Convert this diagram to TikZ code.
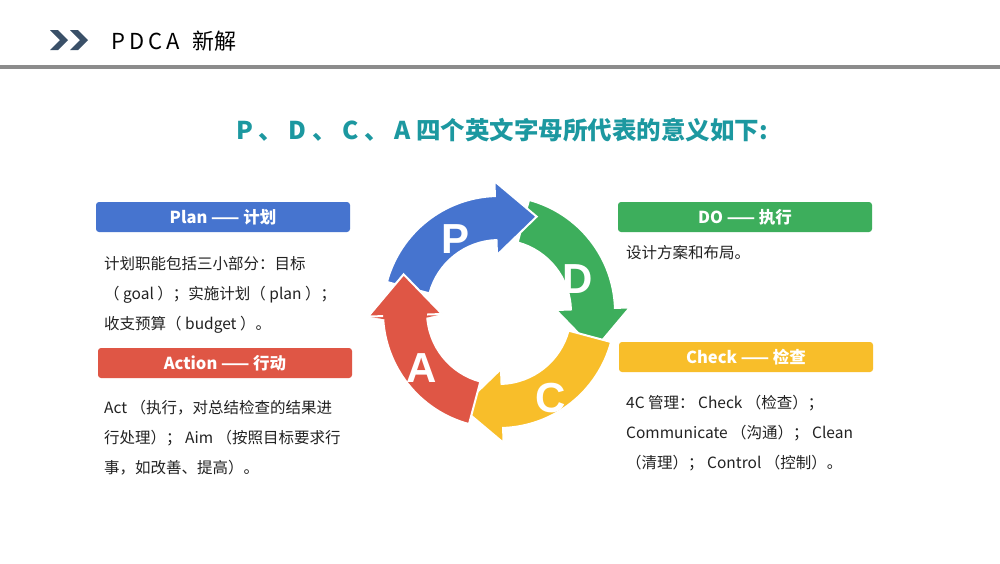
\documentclass[tikz,border=0pt]{standalone}
\usepackage{fontspec}
\setmainfont{Liberation Sans}
\newfontfamily\cjk{Noto Sans CJK SC}
\newfontfamily\cjksp[LetterSpace=18]{Noto Sans CJK SC}
\usetikzlibrary{calc}
\definecolor{cP}{HTML}{4674CF}
\definecolor{cD}{HTML}{3DAE5C}
\definecolor{cC}{HTML}{F8BE2A}
\definecolor{cA}{HTML}{DF5645}
\definecolor{ttl}{HTML}{1C98A0}
\definecolor{hdr}{HTML}{3A5068}
\definecolor{txt}{HTML}{222222}
\newcommand{\arrowshape}[3]{% color, a0, a1
  \fill[#1,draw=white,line width=2pt] (#2:116) arc[start angle=#2,end angle=#3,radius=116] -- (#3:131) -- ($(#3:94)+(#3-90:41)$) -- (#3:57) -- (#3:72) arc[start angle=#3,end angle=#2,radius=72] -- cycle;}
\newcommand{\headshape}[2]{% color, a1
  \fill[#1] ($(#2:72)+(#2+90:3)$) -- ($(#2:116)+(#2+90:3)$) -- (#2:131) -- ($(#2:94)+(#2-90:41)$) -- (#2:57) -- cycle;
  \draw[white,line width=2pt] (#2:116) -- (#2:131) -- ($(#2:94)+(#2-90:41)$) -- (#2:57) -- (#2:72);}
\tikzset{
  bar/.style={minimum width=254pt,minimum height=30pt,inner sep=0pt,rounded corners=3pt,text=white,font=\cjk\bfseries\fontsize{16.5}{16.5}\selectfont},
  body/.style={anchor=north west,align=left,text=txt,inner sep=0pt,font=\cjk\fontsize{15.5}{30}\selectfont},
  lett/.style={text=white,font=\bfseries\fontsize{42}{42}\selectfont}
}
\begin{document}
\begin{tikzpicture}[x=1pt,y=1pt]
\useasboundingbox (0,0) rectangle (1000,-563);
\fill[white] (0,0) rectangle (1000,-563);
% header
\fill[hdr] (50,-30) -- (58,-30) -- (68,-40) -- (58,-50) -- (50,-50) -- (60,-40) -- cycle;
\fill[hdr] (70,-30) -- (78,-30) -- (88,-40) -- (78,-50) -- (70,-50) -- (80,-40) -- cycle;
\node[anchor=west,inner sep=0pt,font=\fontsize{22}{22}\selectfont] (h) at (111,-41) {\cjksp PDCA\/ {\cjk 新解}};
\fill[gray!90] (0,-65) rectangle (1000,-68.5);
\node[text=ttl,font=\cjk\bfseries\fontsize{24.5}{24.5}\selectfont] (t) at (502,-130) {P 、 D 、 C 、 A 四个英文字母所代表的意义如下:};
% cycle
\begin{scope}[shift={(499,-312)}]
\arrowshape{cD}{75}{2}
\arrowshape{cC}{-15}{-88}
\arrowshape{cA}{-105}{-178}
\arrowshape{cP}{165}{92}
\headshape{cA}{-178}
\node[lett] (lp) at (-44,73) {P};
\node[lett] (ld) at (79,33) {D};
\node[lett] (lc) at (52,-86) {C};
\node[lett] (la) at (-77,-56) {A};
\end{scope}
% boxes
\node[bar,fill=cP] (plan) at (223,-217) {Plan —— 计划};
\node[body] (plant) at (104,-256) {计划职能包括三小部分：目标\\（ goal ）；实施计划（ plan ）；\\收支预算（ budget ）。};
\node[bar,fill=cA] (act) at (225,-363) {Action —— 行动};
\node[body] (actt) at (104,-400) {Act （执行，对总结检查的结果进\\行处理）； Aim （按照目标要求行\\事，如改善、提高）。};
\node[bar,fill=cD] (do) at (745,-217) {DO —— 执行};
\node[body] (dot) at (626,-245) {设计方案和布局。};
\node[bar,fill=cC] (chk) at (746,-357) {Check —— 检查};
\node[body] (chkt) at (626,-395) {4C 管理： Check （检查）；\\Communicate （沟通）； Clean\\（清理）； Control （控制）。};
\end{tikzpicture}
\end{document}
